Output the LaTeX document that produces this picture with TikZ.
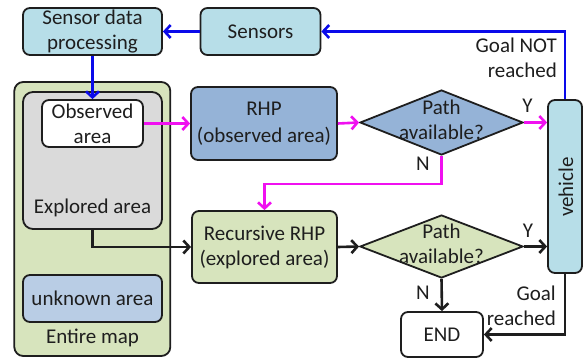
\documentclass[tikz,border=0pt]{standalone}
\usepackage{fontspec}
\setmainfont{Carlito}
\usetikzlibrary{arrows.meta,shapes.geometric}

\definecolor{boxlblue}{HTML}{B7DEE8}
\definecolor{boxblue}{HTML}{95B3D7}
\definecolor{boxgreen}{HTML}{D7E4BD}
\definecolor{boxgray}{HTML}{DADADA}
\definecolor{boxunk}{HTML}{B9CDE5}
\definecolor{linkblue}{HTML}{0A0AEA}
\definecolor{linkmag}{HTML}{F010F0}
\definecolor{inkdark}{HTML}{1E1E1E}

\tikzset{
  txt/.style={font=\fontsize{21}{25}\selectfont, text=inkdark, align=center, inner sep=0pt},
  box/.style={txt, draw=inkdark, line width=1.8pt, rounded corners=7pt},
  decision/.style={draw=inkdark, line width=1.8pt, diamond, inner sep=0pt},
  link/.style={line width=2.6pt, -{Straight Barb[length=6pt,width=13pt,line width=2.6pt]}},
  bluelink/.style={link, draw=linkblue},
  maglink/.style={link, draw=linkmag},
  blacklink/.style={link, draw=inkdark},
}

\begin{document}
\begin{tikzpicture}[x=1pt, y=-1pt]
\useasboundingbox (0,0) rectangle (583,358);

% top row: sensing
\node[box, fill=boxlblue, minimum width=139pt, minimum height=47pt] (sdp) at (92.5,31.5) {Sensor data\\processing};
\node[box, fill=boxlblue, minimum width=120pt, minimum height=47pt] (sens) at (260.5,31.5) {Sensors};

% map regions
\node[box, fill=boxgreen, minimum width=156pt, minimum height=274pt, rounded corners=9pt] (map) at (92.3,219) {};
\node[box, fill=boxgray, minimum width=139pt, minimum height=137pt, rounded corners=10pt] (expl) at (92.5,160.5) {};
\node[box, fill=white, minimum width=101pt, minimum height=47pt] (obs) at (92.5,123.5) {Observed\\area};
\node[txt, anchor=base] (explt) at (92.5,213) {Explored area};
\node[box, fill=boxunk, minimum width=139pt, minimum height=47pt] (unk) at (92.5,298.5) {unknown area};
\node[txt, anchor=base] (mapt) at (92.5,343) {Entire map};

% planners
\node[box, fill=boxblue, minimum width=146pt, minimum height=73pt, font=\fontsize{21}{27}\selectfont] (rhp) at (264,123.5) {RHP\\(observed area)};
\node[box, fill=boxgreen, minimum width=145pt, minimum height=72pt] (rrhp) at (264.5,247) {Recursive RHP\\(explored area)};

% decisions
\node[decision, fill=boxblue, minimum width=163pt, minimum height=65pt] (d1) at (441.5,122.5) {};
\node[txt] (d1t) at (441.5,120) {Path\\available?};
\node[decision, fill=boxgreen, minimum width=163pt, minimum height=63pt] (d2) at (441.5,246.5) {};
\node[txt] (d2t) at (441.5,244) {Path\\available?};

% vehicle and end
\node[box, fill=boxlblue, minimum width=34pt, minimum height=173pt] (veh) at (565,186.5) {};
\node[txt, rotate=90] (veht) at (566,187) {vehicle};
\node[box, fill=white, minimum width=82pt, minimum height=45pt] (end) at (442,334.5) {END};

% connectors
\draw[bluelink] (sens.west) -- (sdp.east);
\draw[bluelink] (sdp.south) -- (sdp.south |- obs.north);
\draw[bluelink] (veh.north) |- (sens.east);
\draw[maglink] (obs.east) -- (obs.east -| rhp.west);
\draw[maglink] (rhp.east) -- (d1.west);
\draw[maglink] (d1.east) -- (d1.east -| veh.west);
\draw[maglink] (d1.south) -- ++(0,28) -| (rrhp.north);
\draw[blacklink] (expl.south) |- (rrhp.west);
\draw[blacklink] (rrhp.east) -- (d2.west);
\draw[blacklink] (d2.east) -- (d2.east -| veh.west);
\draw[blacklink] (d2.south) -- (end.north);
\draw[blacklink] (veh.south) |- (end.east);

% branch labels
\node[txt] (y1) at (527.5,106) {Y};
\node[txt] (n1) at (423,164) {N};
\node[txt] (y2) at (528,231) {Y};
\node[txt] (n2) at (423,293) {N};
\node[txt, align=right, anchor=east] (gnr) at (557,58) {Goal NOT\\reached};
\node[txt, align=right, anchor=east] (gr) at (556,306) {Goal\\reached};
\end{tikzpicture}
\end{document}
